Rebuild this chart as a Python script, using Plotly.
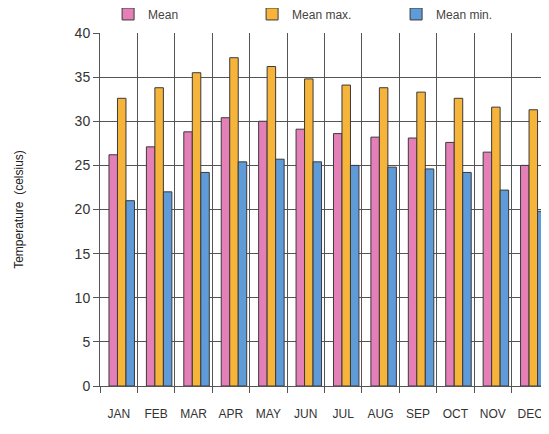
import plotly.graph_objects as go

# monthly temperatures
months = ['JAN', 'FEB', 'MAR', 'APR', 'MAY', 'JUN', 'JUL', 'AUG', 'SEP', 'OCT', 'NOV', 'DEC']
mean_t = [26.2, 27.1, 28.8, 30.4, 30.0, 29.1, 28.6, 28.2, 28.1, 27.6, 26.5, 25.0]
mean_max = [32.6, 33.8, 35.5, 37.2, 36.2, 34.8, 34.1, 33.8, 33.3, 32.6, 31.6, 31.3]
mean_min = [21.0, 22.0, 24.2, 25.4, 25.7, 25.4, 25.0, 24.8, 24.6, 24.2, 22.2, 19.8]

pink = '#e57fb8'
orange = '#f6b43a'
blue = '#5f9bd8'
edge = '#3a3a3a'
grid = '#555555'

# bars sit a little right of centre in the original, so offsets are set by hand
bw = 0.227
fig = go.Figure()
fig.add_trace(go.Bar(x=months, y=mean_t, name='Mean', width=bw, offset=-0.26,
                     marker=dict(color=pink, line=dict(color=edge, width=1))))
fig.add_trace(go.Bar(x=months, y=mean_max, name='Mean max.', width=bw, offset=-0.033,
                     marker=dict(color=orange, line=dict(color=edge, width=1))))
fig.add_trace(go.Bar(x=months, y=mean_min, name='Mean min.', width=bw, offset=0.194,
                     marker=dict(color=blue, line=dict(color=edge, width=1))))

# the page body adds an 8px margin, so the figure is 8px smaller than the window
fig.update_layout(
    width=541, height=426,
    margin=dict(l=92, r=0, t=25, b=48, autoexpand=False),
    paper_bgcolor='white', plot_bgcolor='white',
    font=dict(family='Liberation Sans, Arial, sans-serif', color='#333333'),
    barmode='overlay',
    showlegend=True,
    legend=dict(orientation='h', xref='container', x=0.185, xanchor='left',
                yref='container', y=0.986, yanchor='middle',
                entrywidth=99, entrywidthmode='pixels',
                font=dict(size=12, color='#444444'), itemclick=False,
                bgcolor='rgba(0,0,0,0)'),
)

fig.update_xaxes(
    type='category', tickson='boundaries',
    showgrid=True, gridcolor=grid, gridwidth=1,
    ticks='outside', ticklen=6, tickcolor=grid,
    ticklabelstandoff=17,
    tickfont=dict(size=12, color='#333333'),
    showline=True, linecolor=grid, linewidth=1,
    range=[-0.5, 11.5], automargin=False,
)
fig.update_yaxes(
    range=[0, 40], dtick=5,
    showgrid=True, gridcolor=grid, gridwidth=1,
    ticks='outside', ticklen=6, tickcolor=grid,
    tickfont=dict(size=14, color='#333333'),
    showline=True, linecolor=grid, linewidth=1,
    zeroline=False, automargin=False,
    title=dict(text='Temperature  (celsius)', font=dict(size=12, color='#222222'), standoff=48),
)

fig.write_html("out.html")
